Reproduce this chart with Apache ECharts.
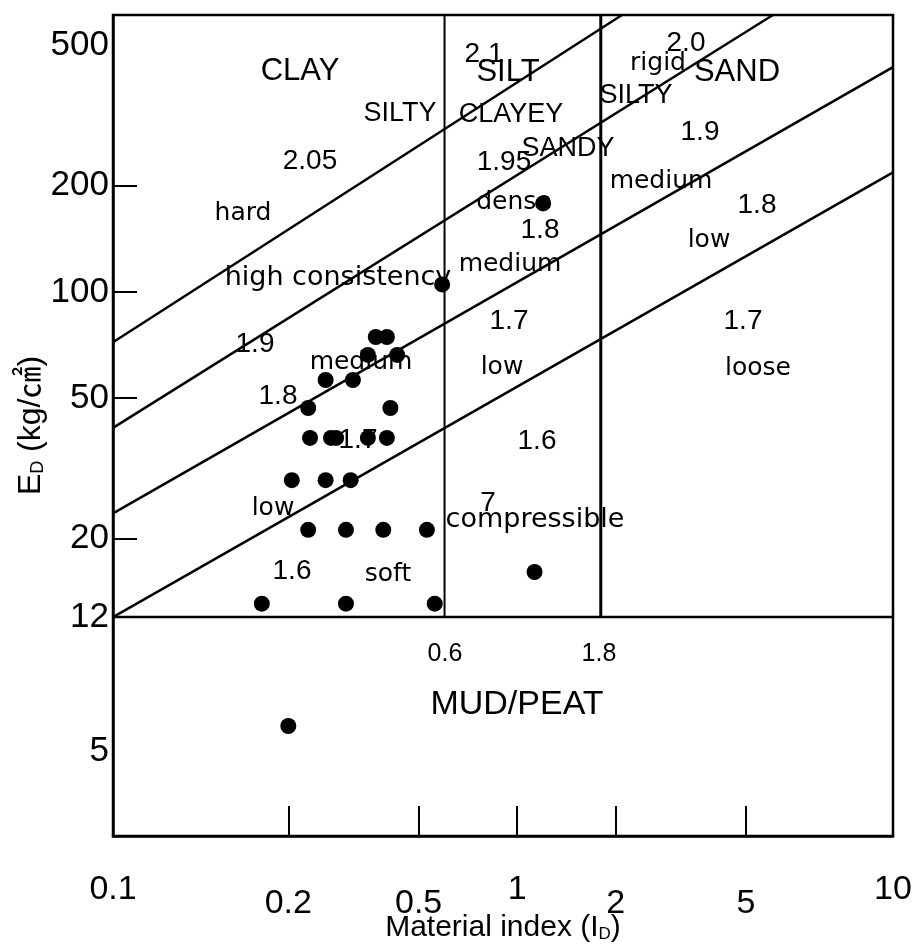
<!DOCTYPE html>
<html>
<head>
<meta charset="utf-8">
<script src="https://cdn.jsdelivr.net/npm/echarts@6/dist/echarts.min.js"></script>
<style>
    html, body { margin: 0; padding: 0; background: #fff; }
    #main { width: 916px; height: 945px; }
</style>
</head>
<body>
<div id="main"></div>
<script>
// edges of the plotted box, in data units (the box runs a bit past 0.1 and 10)
var X_MIN = 0.0583, X_MAX = 14.05;
var Y_MIN = 2.88, Y_MAX = 608;

// measured points: material index I_D and modulus E_D (kg/cm2)
var idValues = [1.20, 0.59, 0.37, 0.40, 0.35, 0.43, 0.26, 0.315, 0.23, 0.41,
    0.233, 0.27, 0.28, 0.35, 0.40, 0.205, 0.26, 0.31, 0.23, 0.30,
    0.39, 0.53, 1.13, 0.166, 0.30, 0.56, 0.20];
var edValues = [178, 105, 74.5, 74.5, 66.3, 66.3, 56.3, 56.3, 46.9, 46.9,
    38.6, 38.6, 38.6, 38.6, 38.6, 29.3, 29.3, 29.3, 21.2, 21.2,
    21.2, 21.2, 16.1, 13.1, 13.1, 13.1, 5.9];

// soil type limits (I_D) and mud/peat limit (E_D)
var soilLimits = [0.6, 1.8];
var mudLimit = 12;

// consistency / density boundaries, [I_D, E_D] end points
var boundaryA = [[X_MIN, 72], [2.09, Y_MAX]];
var boundaryB = [[X_MIN, 41.2], [6.04, Y_MAX]];
var boundaryC = [[X_MIN, 23.6], [X_MAX, 433]];
var boundaryD = [[X_MIN, mudLimit], [X_MAX, 218]];

// tick labels
var xTickValues = [0.2, 0.5, 1, 2, 5];
var xEdgeLabels = ['0.1', '10'];
var yTickValues = [5, 12, 20, 50, 100, 200, 500];
var yDashValues = [12, 20, 50, 100, 200];

// text written in the zones: [text, x, y, kind]
var notes = [
    ['CLAY', 300, 71, 'big'], ['SILT', 508, 72, 'big'], ['SAND', 737, 72, 'big'],
    ['SILTY', 400, 114, 'cap'], ['CLAYEY', 511, 115, 'cap'], ['SILTY', 636, 96, 'cap'],
    ['SANDY', 568, 149, 'cap'], ['MUD/PEAT', 517, 705, 'mud'],
    ['2.1', 484, 54, 'num'], ['2.0', 686, 43, 'num'], ['2.05', 310, 161, 'num'],
    ['1.95', 504, 162, 'num'], ['1.9', 700, 132, 'num'], ['1.8', 540, 230, 'num'],
    ['1.8', 757, 205, 'num'], ['1.7', 509, 321, 'num'], ['1.7', 743, 321, 'num'],
    ['1.9', 255, 344, 'num'], ['1.8', 278, 396, 'num'], ['1.7', 358, 440, 'num'],
    ['1.6', 537, 441, 'num'], ['7', 488, 503, 'num'], ['1.6', 292, 571, 'num'],
    ['0.6', 445, 654, 'small'], ['1.8', 599, 654, 'small'],
    ['rigid', 658, 63, 'word'], ['hard', 243, 213, 'word'], ['dense', 514, 202, 'word'],
    ['medium', 661, 181, 'word'], ['low', 709, 240, 'word'], ['medium', 510, 264, 'word'],
    ['high consistency', 338, 278, 'wide'], ['medium', 361, 362, 'word'],
    ['low', 502, 367, 'word'], ['loose', 758, 368, 'word'], ['low', 273, 508, 'word'],
    ['compressible', 535, 520, 'wide'], ['soft', 388, 574, 'word']
];

var fonts = {
    big: '31px "Liberation Sans"',
    mud: '34px "Liberation Sans"',
    cap: '27px "Liberation Sans"',
    num: '28px "Liberation Sans"',
    small: '25px "Liberation Sans"',
    word: '25px "DejaVu Sans"',
    wide: '27px "DejaVu Sans"'
};

function boundarySeries(points, width) {
    return {
        type: 'line',
        data: points,
        showSymbol: false,
        silent: true,
        lineStyle: { color: '#000', width: width || 2.5 },
        z: 3
    };
}

function xLabel(v) {
    if (v < 0.1) return '{hi|' + xEdgeLabels[0] + '}';
    if (v > 10) return '{hi|' + xEdgeLabels[1] + '}';
    if (Math.abs(v - 1) < 1e-6) return '{hi|1}';
    return '{lo|' + v + '}';
}

var chart = echarts.init(document.getElementById('main'));

chart.setOption({
    animation: false,
    grid: {
        left: 113, right: 23, top: 15, bottom: 109,
        show: true, borderColor: '#000', borderWidth: 2.5,
        outerBoundsMode: 'none'
    },
    xAxis: {
        type: 'log',
        min: X_MIN,
        max: X_MAX,
        name: '{m|Material index (I}{sub|D}{m|)}',
        nameLocation: 'middle',
        nameGap: 77,
        nameMoveOverlap: false,
        nameTextStyle: {
            color: '#000',
            rich: {
                m: { fontSize: 30, color: '#000', fontFamily: 'Liberation Sans' },
                sub: { fontSize: 17, color: '#000', fontFamily: 'Liberation Sans', verticalAlign: 'bottom' }
            }
        },
        axisLine: { lineStyle: { color: '#000', width: 2.5 } },
        axisTick: {
            inside: true, length: 30,
            customValues: xTickValues,
            lineStyle: { color: '#000', width: 2 }
        },
        axisLabel: {
            customValues: [X_MIN * 1.0001].concat(xTickValues, [X_MAX * 0.9999]),
            showMinLabel: true, showMaxLabel: true,
            margin: 37,
            formatter: xLabel,
            rich: {
                hi: { fontSize: 34, color: '#000', fontFamily: 'Liberation Sans' },
                lo: { fontSize: 34, color: '#000', fontFamily: 'Liberation Sans', padding: [14, 0, 0, 0] }
            }
        },
        splitLine: { show: false }
    },
    yAxis: {
        type: 'log',
        min: Y_MIN,
        max: Y_MAX,
        name: '{m|E}{sub|D}{m| (kg/㎠)}',
        nameLocation: 'middle',
        nameGap: 66,
        nameMoveOverlap: false,
        nameTextStyle: {
            color: '#000',
            rich: {
                m: { fontSize: 32, color: '#000', fontFamily: 'Liberation Sans, Noto Sans CJK KR' },
                sub: { fontSize: 18, color: '#000', fontFamily: 'Liberation Sans', verticalAlign: 'bottom' }
            }
        },
        axisLine: { lineStyle: { color: '#000', width: 2.5 } },
        axisTick: {
            inside: true, length: 24,
            customValues: yDashValues,
            lineStyle: { color: '#000', width: 2 }
        },
        axisLabel: {
            customValues: yTickValues,
            margin: 4,
            color: '#000',
            fontSize: 35,
            fontFamily: 'Liberation Sans'
        },
        splitLine: { show: false }
    },
    graphic: notes.map(function (n) {
        return {
            type: 'text',
            x: n[1],
            y: n[2],
            z: 1,
            silent: true,
            style: {
                text: n[0],
                font: fonts[n[3]],
                fill: '#000',
                align: 'center',
                verticalAlign: 'middle'
            }
        };
    }),
    series: [
        boundarySeries(boundaryA),
        boundarySeries(boundaryB),
        boundarySeries(boundaryC),
        boundarySeries(boundaryD),
        boundarySeries([[soilLimits[0], mudLimit], [soilLimits[0], Y_MAX]], 2),
        boundarySeries([[soilLimits[1], mudLimit], [soilLimits[1], Y_MAX]], 3),
        boundarySeries([[X_MIN, mudLimit], [X_MAX, mudLimit]]),
        {
            type: 'scatter',
            data: idValues.map(function (v, i) { return [v, edValues[i]]; }),
            symbol: 'circle',
            symbolSize: 16,
            itemStyle: { color: '#000', opacity: 1 },
            z: 5
        }
    ]
});

window.onresize = chart.resize;
</script>
</body>
</html>
